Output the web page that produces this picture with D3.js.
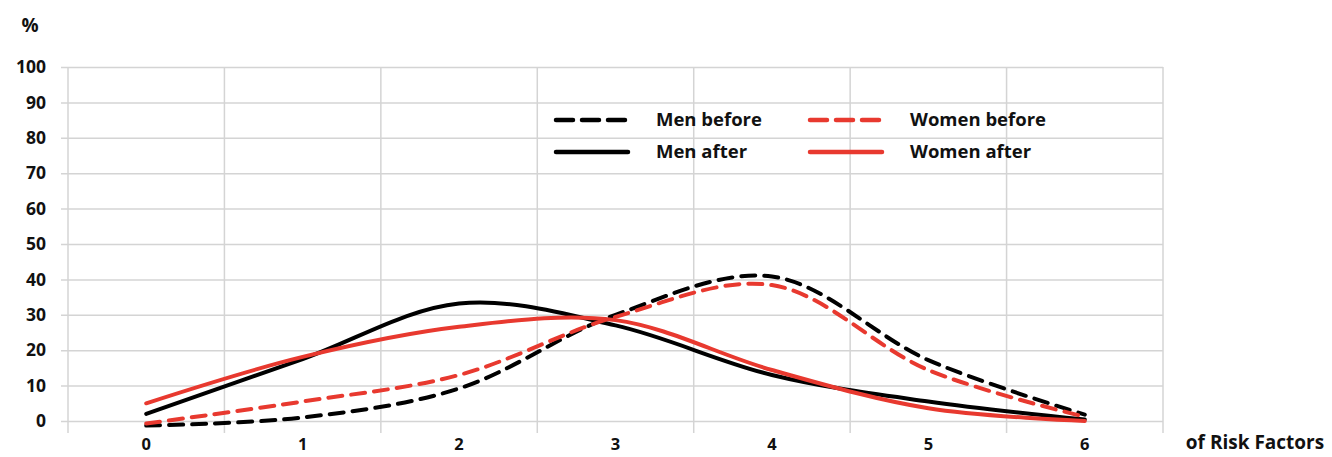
<!DOCTYPE html>
<html>
<head>
<meta charset="utf-8">
<script src="https://cdn.jsdelivr.net/npm/d3@7"></script>
<style>
html,body{margin:0;padding:0;background:#fff;}
svg text{font-family:"Open Sans","DejaVu Sans",sans-serif;font-weight:700;fill:#111;}
</style>
</head>
<body>
<svg id="chart" width="1332" height="457"></svg>
<script>
const categories = ["0","1","2","3","4","5","6"];
const yTicks = [0,10,20,30,40,50,60,70,80,90,100];
const menBefore   = [-1.3, 1.0, 9.2, 30.0, 40.8, 17.2, 1.8];
const menAfter    = [2.0, 17.5, 33.2, 27.0, 13.0, 5.5, 0.4];
const womenBefore = [-0.7, 5.5, 13.0, 29.4, 38.4, 14.4, 1.2];
const womenAfter  = [5.0, 18.1, 26.6, 28.5, 14.4, 3.6, 0.0];
const seriesNames = ["Men before","Women before","Men after","Women after"];
const yLabel = "%";
const xLabel = "of Risk Factors";

const svg = d3.select("#chart");
const x = d3.scaleBand().domain(categories).range([68,1163]).paddingInner(0).paddingOuter(0);
const y = d3.scaleLinear().domain([0,100]).range([421,67]);
const cx = c => x(c) + x.bandwidth()/2;
const grid = "#d4d4d4";

// horizontal gridlines
const gy = svg.append("g").attr("transform","translate(68,0)")
  .call(d3.axisLeft(y).tickValues(yTicks).tickSize(-(1163-68)).tickSizeOuter(0).tickPadding(22));
gy.select(".domain").remove();
gy.selectAll(".tick line").attr("stroke",grid).attr("stroke-width",1.5).attr("x1",-7);
gy.selectAll(".tick text").style("font-size","17.5px").attr("fill","#111");

// vertical gridlines (band boundaries)
const bounds = categories.map(c => x(c)).concat([x(categories[categories.length-1]) + x.bandwidth()]);
svg.append("g").selectAll("line").data(bounds).join("line")
  .attr("x1",d=>d).attr("x2",d=>d).attr("y1",y(100)).attr("y2",433)
  .attr("stroke",grid).attr("stroke-width",1.5);

// x labels
const gx = svg.append("g").attr("transform","translate(0,433)")
  .call(d3.axisBottom(x).tickSize(0).tickPadding(9));
gx.select(".domain").remove();
gx.selectAll(".tick text").style("font-size","16.5px").attr("fill","#111").attr("y",17).attr("dy",0);

svg.append("text").attr("x",30).attr("y",32).attr("text-anchor","middle").style("font-size","19px").text(yLabel);
svg.append("text").attr("x",1255).attr("y",449).attr("text-anchor","middle").style("font-size","19px").text(xLabel);

const line = d3.line().x((d,i)=>cx(categories[i])).y(d=>y(d)).curve(d3.curveCatmullRom.alpha(0.5));
const series = [
  {v:menBefore, color:"#000", dash:"14,9"},
  {v:menAfter, color:"#000", dash:null},
  {v:womenBefore, color:"#e8392f", dash:"14,9"},
  {v:womenAfter, color:"#e8392f", dash:null}
];
svg.append("g").selectAll("path").data(series).join("path")
  .attr("d",d=>line(d.v)).attr("fill","none").attr("stroke",d=>d.color)
  .attr("stroke-width",4).attr("stroke-linecap","round")
  .attr("stroke-dasharray",d=>d.dash);

// legend
const legend = [
  {name:seriesNames[0], color:"#000", dash:"17,9", lx:556, ty:120},
  {name:seriesNames[1], color:"#e8392f", dash:"17,9", lx:810, ty:120},
  {name:seriesNames[2], color:"#000", dash:null, lx:556, ty:152},
  {name:seriesNames[3], color:"#e8392f", dash:null, lx:810, ty:152}
];
const lg = svg.append("g").selectAll("g").data(legend).join("g");
lg.append("line").attr("x1",d=>d.lx).attr("x2",d=>d.lx+72).attr("y1",d=>d.ty).attr("y2",d=>d.ty)
  .attr("stroke",d=>d.color).attr("stroke-width",4.5).attr("stroke-linecap","round")
  .attr("stroke-dasharray",d=>d.dash);
lg.append("text").attr("x",d=>d.lx+100).attr("y",d=>d.ty+6).style("font-size","18.5px").text(d=>d.name);
</script>
</body>
</html>
